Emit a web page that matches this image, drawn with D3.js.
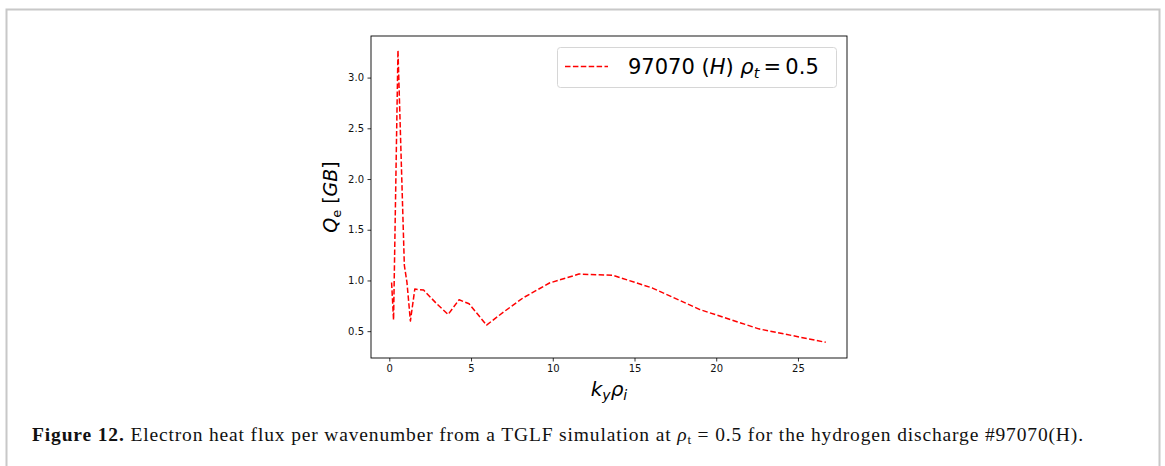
<!DOCTYPE html>
<html><head><meta charset="utf-8">
<script src="https://cdn.jsdelivr.net/npm/d3@7"></script>
<style>body{margin:0;background:#fff}svg{display:block}</style>
</head><body>
<svg id="c" width="1165" height="466"></svg>
<script>
const ky = [0.14, 0.26, 0.53, 0.92, 1.08, 1.29, 1.56, 2.1, 2.9, 3.6, 4.27, 4.88, 5.95, 7.0, 8.2, 9.8, 11.6, 13.7, 16.1, 19.0, 22.6, 26.7];
const Qe = [0.98, 0.61, 3.27, 1.15, 0.98, 0.60, 0.915, 0.905, 0.77, 0.665, 0.81, 0.77, 0.56, 0.69, 0.83, 0.975, 1.063, 1.05, 0.925, 0.713, 0.523, 0.39];
const xTicks = [0, 5, 10, 15, 20, 25];
const yTicks = [0.5, 1.0, 1.5, 2.0, 2.5, 3.0];

const svg = d3.select("#c");
svg.append("rect").attr("x",0).attr("y",0).attr("width",1165).attr("height",466).attr("fill","#fff");
svg.append("path").attr("d","M6.5,480 V9.5 H1159.5 V480").attr("fill","none").attr("stroke","#c8c8c8").attr("stroke-width",2);

const L=371, R=847, T=36, B=358;
const x = d3.scaleLinear().domain([-1.12, 28.0]).range([L, R]);
const y = d3.scaleLinear().domain([0.2355, 3.41]).range([B, T]);

const gx = svg.append("g").attr("transform",`translate(0,${B})`)
  .call(d3.axisBottom(x).tickValues(xTicks).tickSize(3.5).tickPadding(3.5).tickFormat(d3.format("d")));
const gy = svg.append("g").attr("transform",`translate(${L},0)`)
  .call(d3.axisLeft(y).tickValues(yTicks).tickSize(3.5).tickPadding(3.5).tickFormat(d3.format(".1f")));
[gx,gy].forEach(g=>{
  g.select(".domain").remove();
  g.selectAll("text").attr("font-family","DejaVu Sans").attr("font-size",10).attr("fill","#111");
  g.selectAll("line").attr("stroke","#000").attr("stroke-width",0.8);
});

const line = d3.line().x((d,i)=>x(ky[i])).y(d=>y(d));
svg.append("path").datum(Qe).attr("d",line).attr("fill","none").attr("stroke","#ff0000")
  .attr("stroke-width",1.5).attr("stroke-dasharray","5.5,2.4").attr("stroke-linejoin","round");

svg.append("rect").attr("x",L).attr("y",T).attr("width",R-L).attr("height",B-T)
  .attr("fill","none").attr("stroke","#000").attr("stroke-width",0.9);

// legend
svg.append("rect").attr("x",557.5).attr("y",47.5).attr("width",279).attr("height",40).attr("rx",3)
  .attr("fill","#fff").attr("stroke","#d6d6d6").attr("stroke-width",1);
svg.append("line").attr("x1",565).attr("x2",608).attr("y1",66.5).attr("y2",66.5)
  .attr("stroke","#ff0000").attr("stroke-width",1.5).attr("stroke-dasharray","5.5,2.4");
const lt = svg.append("text").attr("x",628).attr("y",74).attr("font-family","DejaVu Sans").attr("font-size",21).attr("fill","#000");
lt.append("tspan").text("97070 (");
lt.append("tspan").attr("font-style","italic").text("H");
lt.append("tspan").text(") ");
lt.append("tspan").attr("font-style","italic").text("ρ");
lt.append("tspan").attr("font-style","italic").attr("font-size",14.5).attr("dy",4).text("t");
lt.append("tspan").attr("dy",-4).text("\u2009=\u20090.5");

// x label
const xl = svg.append("text").attr("x",(L+R)/2).attr("y",396).attr("text-anchor","middle")
  .attr("font-family","DejaVu Sans").attr("font-size",20).attr("font-style","italic");
xl.append("tspan").text("k");
xl.append("tspan").attr("font-size",14).attr("dy",4).text("y");
xl.append("tspan").attr("dy",-4).text("ρ");
xl.append("tspan").attr("font-size",14).attr("dy",4).text("i");

// y label
const yl = svg.append("text").attr("transform",`translate(337,${(T+B)/2}) rotate(-90)`).attr("text-anchor","middle")
  .attr("font-family","DejaVu Sans").attr("font-size",19);
yl.append("tspan").attr("font-style","italic").text("Q");
yl.append("tspan").attr("font-size",13).attr("dy",4).text("e");
yl.append("tspan").attr("dy",-4).text(" [");
yl.append("tspan").attr("font-style","italic").text("GB");
yl.append("tspan").text("]");

// caption
const cap = svg.append("text").attr("x",32).attr("y",441).attr("font-family","Liberation Serif").attr("font-size",19.5).attr("fill","#111")
  .attr("textLength",1051).attr("lengthAdjust","spacing");
cap.append("tspan").attr("font-weight","bold").text("Figure 12.");
cap.append("tspan").text(" Electron heat flux per wavenumber from a TGLF simulation at ");
cap.append("tspan").attr("font-style","italic").text("ρ");
cap.append("tspan").attr("font-size",13).attr("dy",3).text("t");
cap.append("tspan").attr("dy",-3).text(" = 0.5 for the hydrogen discharge #97070(H).");
</script>
</body></html>
